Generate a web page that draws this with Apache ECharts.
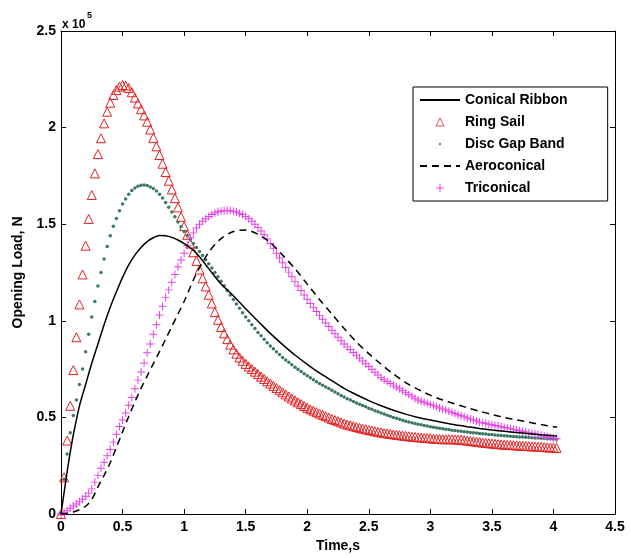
<!DOCTYPE html>
<html>
<head>
<meta charset="utf-8">
<script src="https://cdn.jsdelivr.net/npm/echarts@6/dist/echarts.min.js"></script>
<style>
html,body{margin:0;padding:0;background:#fff;}
#chart{width:631px;height:558px;}
</style>
</head>
<body>
<div id="chart"></div>
<script>
// Units: opening load in 1e5 N, time in s
const legendNames = ['Conical Ribbon', 'Ring Sail', 'Disc Gap Band', 'Aeroconical', 'Triconical'];
const xTicks = [0, 0.5, 1, 1.5, 2, 2.5, 3, 3.5, 4, 4.5];
const yTicks = [0, 0.5, 1, 1.5, 2, 2.5];

// Sample step of the marker series (s)
const markerStep = 0.025;

// Ring Sail (triangles), one value every 0.025 s from 0 to 4.025 s
const ringSail = [
0, 0.19, 0.38, 0.56, 0.745, 0.915, 1.085, 1.24, 1.389, 1.527,
1.651, 1.763, 1.863, 1.945, 2.022, 2.082, 2.129, 2.169, 2.195, 2.212,
2.22, 2.218, 2.205, 2.183, 2.155, 2.125, 2.095, 2.063, 2.03, 1.99,
1.947, 1.903, 1.858, 1.813, 1.77, 1.725, 1.68, 1.635, 1.587, 1.538,
1.49, 1.445, 1.40, 1.355, 1.31, 1.265, 1.22, 1.178, 1.135, 1.09,
1.045, 1.005, 0.968, 0.935, 0.905, 0.877, 0.852, 0.83, 0.81, 0.793,
0.777, 0.763, 0.75, 0.737, 0.724, 0.711, 0.699, 0.687, 0.675, 0.663,
0.652, 0.641, 0.63, 0.619, 0.608, 0.598, 0.588, 0.578, 0.569, 0.559,
0.55, 0.542, 0.535, 0.527, 0.52, 0.513, 0.506, 0.499, 0.492, 0.486,
0.48, 0.474, 0.468, 0.463, 0.459, 0.454, 0.45, 0.446, 0.442, 0.439,
0.435, 0.432, 0.428, 0.425, 0.422, 0.419, 0.417, 0.414, 0.412, 0.41,
0.408, 0.406, 0.404, 0.402, 0.4, 0.399, 0.397, 0.396, 0.394, 0.393,
0.392, 0.39, 0.389, 0.388, 0.387, 0.387, 0.387, 0.387, 0.386, 0.385,
0.384, 0.382, 0.38, 0.378, 0.376, 0.374, 0.372, 0.37, 0.368, 0.366,
0.365, 0.363, 0.362, 0.36, 0.359, 0.358, 0.357, 0.356, 0.355, 0.354,
0.353, 0.352, 0.351, 0.35, 0.349, 0.348, 0.347, 0.346, 0.345, 0.344,
0.343, 0.342
];

// Disc Gap Band (dots), every 0.025 s
const discGapBand = [
0, 0.18, 0.31, 0.42, 0.51, 0.59, 0.67, 0.75, 0.84, 0.93,
1.02, 1.10, 1.18, 1.25, 1.32, 1.384, 1.44, 1.49, 1.53, 1.57,
1.605, 1.63, 1.655, 1.675, 1.688, 1.697, 1.702, 1.703, 1.70, 1.693,
1.685, 1.672, 1.655, 1.635, 1.612, 1.588, 1.563, 1.538, 1.512, 1.487,
1.462, 1.441, 1.421, 1.40, 1.38, 1.359, 1.338, 1.316, 1.295, 1.273,
1.25, 1.228, 1.205, 1.181, 1.158, 1.134, 1.11, 1.087, 1.065, 1.042,
1.02, 1.0, 0.98, 0.96, 0.94, 0.922, 0.905, 0.887, 0.87, 0.855,
0.84, 0.825, 0.81, 0.797, 0.785, 0.772, 0.76, 0.749, 0.737, 0.726,
0.715, 0.705, 0.695, 0.685, 0.675, 0.666, 0.657, 0.649, 0.64, 0.631,
0.622, 0.614, 0.605, 0.597, 0.59, 0.582, 0.575, 0.568, 0.561, 0.555,
0.548, 0.542, 0.535, 0.529, 0.523, 0.517, 0.511, 0.506, 0.50, 0.495,
0.49, 0.485, 0.48, 0.476, 0.472, 0.469, 0.465, 0.462, 0.458, 0.455,
0.452, 0.449, 0.446, 0.444, 0.441, 0.439, 0.437, 0.434, 0.432, 0.43,
0.428, 0.426, 0.424, 0.422, 0.42, 0.419, 0.417, 0.415, 0.414, 0.412,
0.411, 0.409, 0.408, 0.406, 0.405, 0.404, 0.402, 0.401, 0.40, 0.399,
0.398, 0.397, 0.396, 0.395, 0.394, 0.393, 0.392, 0.391, 0.39, 0.389,
0.388, 0.387
];

// Triconical (plus signs), every 0.025 s
const triconical = [
0, 0.008, 0.017, 0.03, 0.041, 0.052, 0.063, 0.076, 0.092, 0.108,
0.13, 0.165, 0.2, 0.237, 0.268, 0.302, 0.334, 0.372, 0.413, 0.453,
0.487, 0.523, 0.563, 0.603, 0.648, 0.693, 0.735, 0.782, 0.835, 0.88,
0.93, 0.98, 1.03, 1.075, 1.12, 1.16, 1.20, 1.24, 1.28, 1.315,
1.35, 1.39, 1.43, 1.455, 1.48, 1.50, 1.515, 1.528, 1.54, 1.55,
1.558, 1.564, 1.568, 1.57, 1.571, 1.57, 1.567, 1.563, 1.557, 1.55,
1.54, 1.528, 1.515, 1.50, 1.483, 1.465, 1.445, 1.424, 1.40, 1.375,
1.35, 1.325, 1.30, 1.276, 1.252, 1.228, 1.204, 1.18, 1.157, 1.134,
1.112, 1.09, 1.068, 1.048, 1.028, 1.008, 0.989, 0.97, 0.951, 0.933,
0.915, 0.897, 0.88, 0.865, 0.851, 0.836, 0.822, 0.807, 0.792, 0.778,
0.763, 0.749, 0.734, 0.72, 0.705, 0.695, 0.686, 0.676, 0.667, 0.657,
0.648, 0.638, 0.628, 0.618, 0.609, 0.599, 0.59, 0.584, 0.578, 0.573,
0.567, 0.561, 0.555, 0.549, 0.543, 0.538, 0.532, 0.526, 0.52, 0.514,
0.509, 0.503, 0.497, 0.492, 0.486, 0.481, 0.475, 0.472, 0.468, 0.465,
0.462, 0.458, 0.455, 0.452, 0.448, 0.445, 0.442, 0.438, 0.435, 0.431,
0.428, 0.425, 0.421, 0.418, 0.414, 0.411, 0.407, 0.404, 0.40, 0.397,
0.393, 0.39
];

// Times of the two line series (s)
const lineTimes = [
0, 0.025, 0.05, 0.075, 0.1, 0.15, 0.2, 0.25, 0.3, 0.35,
0.4, 0.45, 0.5, 0.55, 0.6, 0.65, 0.7, 0.75, 0.8, 0.85,
0.9, 0.95, 1.0, 1.1, 1.2, 1.3, 1.4, 1.5, 1.6, 1.7,
1.8, 1.9, 2.0, 2.1, 2.2, 2.3, 2.4, 2.5, 2.6, 2.7,
2.8, 2.9, 3.0, 3.1, 3.2, 3.3, 3.4, 3.5, 3.6, 3.7,
3.8, 3.9, 4.0, 4.03
];

// Conical Ribbon (solid line)
const conicalRibbon = [
0, 0.11, 0.22, 0.32, 0.41, 0.56, 0.67, 0.78, 0.88, 0.98,
1.07, 1.15, 1.225, 1.29, 1.34, 1.38, 1.41, 1.43, 1.442, 1.44,
1.432, 1.418, 1.40, 1.35, 1.27, 1.19, 1.13, 1.062, 0.998, 0.935,
0.877, 0.823, 0.775, 0.73, 0.69, 0.65, 0.617, 0.587, 0.56, 0.537,
0.517, 0.50, 0.486, 0.474, 0.462, 0.452, 0.443, 0.435, 0.428, 0.422,
0.416, 0.41, 0.405, 0.404
];

// Aeroconical (dashed line)
const aeroconical = [
0, 0.001, 0.003, 0.006, 0.01, 0.022, 0.04, 0.075, 0.14, 0.2,
0.265, 0.345, 0.425, 0.505, 0.58, 0.65, 0.715, 0.778, 0.84, 0.905,
0.97, 1.035, 1.10, 1.245, 1.355, 1.425, 1.462, 1.47, 1.448, 1.405,
1.34, 1.27, 1.19, 1.11, 1.035, 0.96, 0.89, 0.83, 0.775, 0.725,
0.68, 0.645, 0.615, 0.59, 0.57, 0.55, 0.532, 0.515, 0.50, 0.487,
0.475, 0.463, 0.452, 0.45
];

function markerPairs(values) {
  return values.map((v, i) => [Math.round(i * markerStep * 1000) / 1000, v]);
}
function linePairs(values) {
  return values.map((v, i) => [lineTimes[i], v]);
}

const FONT = 'Liberation Sans, Arial, sans-serif';
const chart = echarts.init(document.getElementById('chart'), null, {renderer: 'canvas'});

const axisCommon = {
  type: 'value',
  axisLine: {show: true, onZero: false, lineStyle: {color: '#000', width: 1}},
  axisTick: {show: true, inside: true, length: 5, lineStyle: {color: '#000', width: 1}},
  splitLine: {show: false}
};

const plusPath = 'path://M4.4,0H5.6V4.4H10V5.6H5.6V10H4.4V5.6H0V4.4H4.4Z';
// small dot centred in an otherwise empty 10x10 box (legend icon)
const dotIcon = 'path://M0,0M10,10M5,3.6L6.4,5L5,6.4L3.6,5Z';

chart.setOption({
  animation: false,
  backgroundColor: '#fff',
  grid: {left: 61, right: 16, top: 31, bottom: 44, containLabel: false},
  xAxis: [
    Object.assign({}, axisCommon, {
      min: xTicks[0], max: xTicks[xTicks.length - 1], interval: 0.5, position: 'bottom',
      axisLabel: {color: '#000', fontFamily: FONT, fontWeight: 'bold', fontSize: 14, margin: 6},
      name: 'Time,s', nameLocation: 'middle', nameGap: 24,
      nameTextStyle: {color: '#000', fontFamily: FONT, fontWeight: 'bold', fontSize: 14}
    }),
    Object.assign({}, axisCommon, {
      min: xTicks[0], max: xTicks[xTicks.length - 1], interval: 0.5, position: 'top',
      axisLabel: {show: false}
    })
  ],
  yAxis: [
    Object.assign({}, axisCommon, {
      min: yTicks[0], max: yTicks[yTicks.length - 1], interval: 0.5, position: 'left',
      axisLabel: {color: '#000', fontFamily: FONT, fontWeight: 'bold', fontSize: 14, margin: 5},
      name: 'Opening Load, N', nameLocation: 'middle', nameGap: 36,
      nameTextStyle: {color: '#000', fontFamily: FONT, fontWeight: 'bold', fontSize: 14}
    }),
    Object.assign({}, axisCommon, {
      min: yTicks[0], max: yTicks[yTicks.length - 1], interval: 0.5, position: 'right',
      axisLabel: {show: false}
    })
  ],
  legend: {
    data: [
      {name: legendNames[0], itemStyle: {opacity: 0}},
      {name: legendNames[1], itemStyle: {borderWidth: 0.8, borderColor: '#d03030'}},
      {name: legendNames[2], icon: dotIcon},
      {name: legendNames[3], itemStyle: {opacity: 0}},
      {name: legendNames[4]}
    ],
    orient: 'vertical',
    left: 413, top: 87,
    padding: [6, 40, 6, 6],
    itemWidth: 40, itemHeight: 10, itemGap: 8,
    backgroundColor: '#fff',
    borderColor: '#000', borderWidth: 1, borderRadius: 0,
    textStyle: {color: '#000', fontFamily: FONT, fontWeight: 'bold', fontSize: 14},
    selectedMode: false
  },
  graphic: [
    {type: 'text', left: 62, top: 19, style: {text: 'x 10', fill: '#000', font: 'bold 12px ' + FONT}},
    {type: 'text', left: 87, top: 11, style: {text: '5', fill: '#000', font: 'bold 9px ' + FONT}}
  ],
  series: [
    {
      name: 'Ring Sail', type: 'line', data: markerPairs(ringSail),
      symbol: 'triangle', symbolSize: 9, showAllSymbol: true,
      lineStyle: {opacity: 0},
      itemStyle: {color: 'rgba(255,255,255,0)', borderColor: '#e32222', borderWidth: 1},
      z: 2
    },
    {
      name: 'Disc Gap Band', type: 'line', data: markerPairs(discGapBand),
      symbol: 'circle', symbolSize: 3.5, showAllSymbol: true,
      lineStyle: {opacity: 0},
      itemStyle: {color: '#3d7a62'},
      z: 3
    },
    {
      name: 'Conical Ribbon', type: 'line', data: linePairs(conicalRibbon),
      symbol: 'none', smooth: 0.3,
      lineStyle: {color: '#000', width: 1.5},
      itemStyle: {color: '#000'},
      z: 4
    },
    {
      name: 'Aeroconical', type: 'line', data: linePairs(aeroconical),
      symbol: 'none', smooth: 0.3,
      lineStyle: {color: '#000', width: 1.5, type: [7, 5]},
      itemStyle: {color: '#000'},
      z: 4
    },
    {
      name: 'Triconical', type: 'line', data: markerPairs(triconical),
      symbol: plusPath, symbolSize: 8, showAllSymbol: true,
      lineStyle: {opacity: 0},
      itemStyle: {color: '#e83ee8'},
      z: 3
    }
  ]
});
</script>
</body>
</html>
